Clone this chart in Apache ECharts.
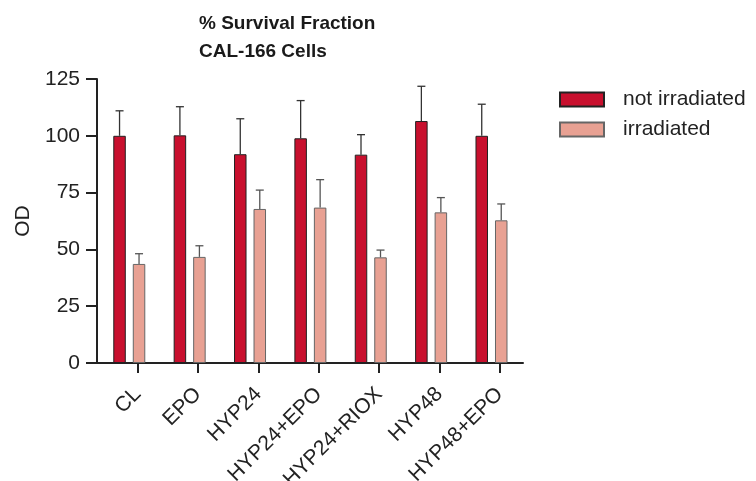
<!DOCTYPE html>
<html><head><meta charset="utf-8">
<script src="https://cdn.jsdelivr.net/npm/echarts@6/dist/echarts.min.js"></script>
<style>html,body{margin:0;padding:0;background:#fff}#c{width:756px;height:481px}</style>
</head><body><div id="c"></div>
<script>
const categories = ['CL','EPO','HYP24','HYP24+EPO','HYP24+RIOX','HYP48','HYP48+EPO'];
const notIrradiated = [100, 100.2, 91.9, 98.9, 91.7, 106.5, 100.0];
const notIrradiatedErr = [11.0, 12.6, 15.6, 16.6, 8.8, 15.3, 13.9];
const irradiated = [43.6, 46.7, 67.8, 68.4, 46.5, 66.3, 62.8];
const irradiatedErr = [4.5, 4.9, 8.3, 12.3, 3.2, 6.5, 7.2];
const yMin = 0, yMax = 125, yStep = 25;

const FONT = 'Liberation Sans, Arial, sans-serif';
const tickShift = 0.138;
const tickPos = categories.map((c, i) => i + tickShift);
const BAR_W = 12.5, BAR_GAP = 7;
const OFF = (BAR_W + BAR_GAP) / 2;

function errRender(offsetPx, color) {
  return function (params, api) {
    const x = api.value(0), v = api.value(1), e = api.value(2);
    const p0 = api.coord([x, v]);
    const p1 = api.coord([x, v + e]);
    const cx = p0[0] + offsetPx;
    const st = { stroke: color, lineWidth: 1.3 };
    return { type: 'group', children: [
      { type: 'line', shape: { x1: cx, y1: p0[1], x2: cx, y2: p1[1] }, style: st },
      { type: 'line', shape: { x1: cx - 4, y1: p1[1], x2: cx + 4, y2: p1[1] }, style: st }
    ]};
  };
}

const chart = echarts.init(document.getElementById('c'), null, { renderer: 'canvas' });
chart.setOption({
  animation: false,
  backgroundColor: '#fff',
  textStyle: { fontFamily: FONT },
  title: {
    text: '% Survival Fraction\nCAL-166 Cells',
    left: 199, top: 10, padding: 0,
    textStyle: { fontFamily: FONT, fontSize: 19, fontWeight: 'bold', color: '#1a1a1a', lineHeight: 28 }
  },
  legend: {
    data: ['not irradiated', 'irradiated'],
    orient: 'vertical', left: 559, top: 89, padding: 0,
    itemWidth: 44, itemHeight: 14, itemGap: 9,
    icon: 'rect',
    textStyle: { fontFamily: FONT, fontSize: 21, lineHeight: 16, color: '#222', padding: [0, 0, 0, 14] }
  },
  grid: { left: 88, right: 233, top: 79, bottom: 118, containLabel: false, outerBoundsMode: 'none' },
  xAxis: {
    type: 'value', min: -0.684, max: 6.522,
    splitLine: { show: false },
    axisLine: { show: true, lineStyle: { color: '#222', width: 2 } },
    axisTick: { show: true, customValues: tickPos, length: 10, lineStyle: { color: '#222', width: 2 } },
    axisLabel: {
      customValues: tickPos, rotate: 45, margin: 28, fontSize: 21, color: '#222', fontFamily: FONT,
      formatter: v => categories[Math.round(v - tickShift)]
    }
  },
  yAxis: {
    type: 'value', min: yMin, max: yMax, interval: yStep, offset: -9,
    name: 'OD', nameLocation: 'middle', nameRotate: 90, nameGap: 53,
    nameTextStyle: { fontFamily: FONT, fontSize: 21, color: '#222' },
    splitLine: { show: false },
    axisLine: { show: true, onZero: false, lineStyle: { color: '#222', width: 2 } },
    axisTick: { show: true, length: 11, lineStyle: { color: '#222', width: 2 } },
    axisLabel: { fontSize: 21, color: '#222', margin: 17, fontFamily: FONT }
  },
  series: [
    {
      name: 'not irradiated', type: 'bar', barWidth: BAR_W, barGap: (BAR_GAP / BAR_W * 100) + '%',
      data: notIrradiated.map((v, i) => [i, v]),
      itemStyle: { color: '#C8102E', borderColor: '#222', borderWidth: 1 }
    },
    {
      name: 'irradiated', type: 'bar', barWidth: BAR_W,
      data: irradiated.map((v, i) => [i, v]),
      itemStyle: { color: '#E8A193', borderColor: '#666', borderWidth: 1 }
    },
    {
      type: 'custom', z: 3, renderItem: errRender(-OFF, '#333'),
      data: notIrradiated.map((v, i) => [i, v, notIrradiatedErr[i]]),
      encode: { x: 0, y: [1, 2] }, silent: true
    },
    {
      type: 'custom', z: 3, renderItem: errRender(OFF, '#555'),
      data: irradiated.map((v, i) => [i, v, irradiatedErr[i]]),
      encode: { x: 0, y: [1, 2] }, silent: true
    }
  ]
});
</script>
</body></html>
